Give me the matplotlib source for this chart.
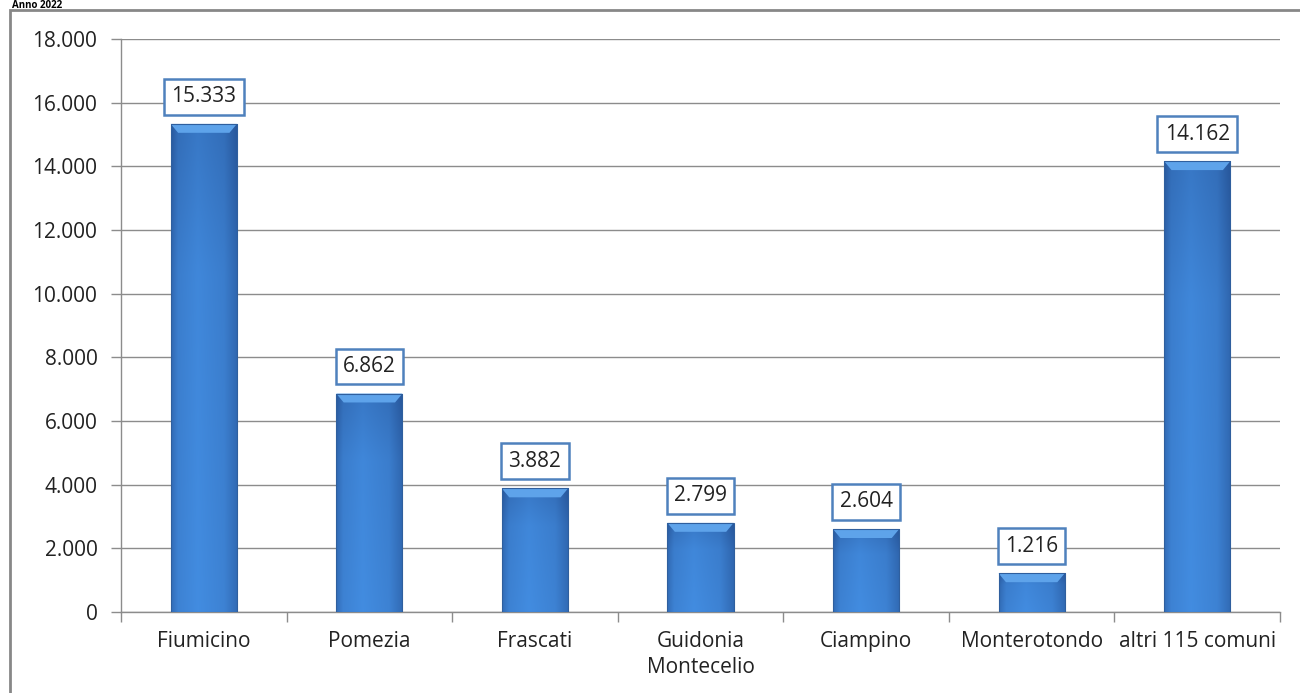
import matplotlib.pyplot as plt
import numpy as np
from matplotlib.patches import Rectangle, Polygon
from matplotlib.ticker import FuncFormatter, FixedLocator

# data
comuni = ['Fiumicino', 'Pomezia', 'Frascati', 'Guidonia\nMontecelio', 'Ciampino',
          'Monterotondo', 'altri 115 comuni']
valori = [15333, 6862, 3882, 2799, 2604, 1216, 14162]

plt.rcParams['font.family'] = ['Open Sans', 'DejaVu Sans']
fs = 15

fig = plt.figure(figsize=(13, 6.93), dpi=100)
ax = fig.add_axes([121/1300, 1-612/693, (1280-121)/1300, (612-39)/693])

# outer frame of the chart
fig.patches.append(Rectangle((10/1300, -0.05), 1.1, 1-10/693+0.05, transform=fig.transFigure,
                             fill=False, edgecolor='#878787', lw=2, figure=fig))
fig.text(12/1300, 1-0.5/693, 'Anno 2022', fontsize=7, fontweight='bold', va='top')

x = np.arange(len(comuni))
w = 0.4
bars = ax.bar(x, valori, width=w, color='none', zorder=3)

# shading of each bar: lighter in the middle, darker at the sides and bottom
cols = np.linspace(0, 1, 60)
light = np.array([0.26, 0.55, 0.88])
dark = np.array([0.16, 0.35, 0.62])
prof = np.interp(cols, [0, 0.1, 0.4, 0.8, 1], [0.6, 0.2, 0.0, 0.2, 0.65])
rows = np.linspace(0, 1, 40)
vprof = np.interp(rows, [0, 0.7, 1], [0.0, 0.1, 0.4])
img = np.zeros((40, 60, 3))
for i in range(40):
    t = np.clip(prof + vprof[i], 0, 1)
    img[i] = light[None, :] * (1 - t[:, None]) + dark[None, :] * t[:, None]

bev = 280
for b in bars:
    x0, y0 = b.get_x(), b.get_y()
    bw, bh = b.get_width(), b.get_height()
    im = ax.imshow(img, extent=[x0, x0 + bw, y0 + bh, y0], aspect='auto', zorder=3,
                   interpolation='bilinear')
    im.set_clip_path(b)
    top = y0 + bh
    ax.add_patch(Polygon([[x0, top], [x0 + bw, top], [x0 + bw - 0.045, top - bev],
                          [x0 + 0.045, top - bev]], closed=True, facecolor='#5ea3ea',
                         edgecolor='none', zorder=4))
    ax.add_patch(Rectangle((x0, y0), bw, bh, fill=False, edgecolor='#2f5f9e', lw=0.8, zorder=4))

for xi, v in zip(x, valori):
    ax.annotate(f'{v:,}'.replace(',', '.'), (xi, v), xytext=(0, 12), textcoords='offset points',
                ha='center', va='bottom', fontsize=fs, color='#222222', zorder=5,
                bbox=dict(boxstyle='square,pad=0.35', fc='white', ec='#4f81bd', lw=1.8))

ax.set_xlim(-0.5, len(comuni) - 0.5)
ax.set_ylim(0, 18000)
ax.yaxis.set_major_locator(FixedLocator(np.arange(0, 18001, 2000)))
ax.yaxis.set_major_formatter(FuncFormatter(lambda v, p: f'{int(v):,}'.replace(',', '.')))
ax.grid(axis='y', color='#8c8c8c', lw=1, zorder=0)
ax.set_axisbelow(True)

ax.set_xticks(x)
ax.set_xticklabels(comuni, fontsize=fs, color='#222222', linespacing=1.3)
ax.set_xticks(np.arange(-0.5, len(comuni), 1), minor=True)
ax.tick_params(axis='x', which='major', length=0, pad=14)
ax.tick_params(axis='x', which='minor', length=7, color='#8c8c8c', width=1)
ax.tick_params(axis='y', length=7, color='#8c8c8c', width=1, labelsize=fs, labelcolor='#222222', pad=10)

for s in ['top', 'right']:
    ax.spines[s].set_visible(False)
for s in ['left', 'bottom']:
    ax.spines[s].set_color('#8c8c8c')
    ax.spines[s].set_linewidth(1)

fig.savefig('out.png', dpi=100)
